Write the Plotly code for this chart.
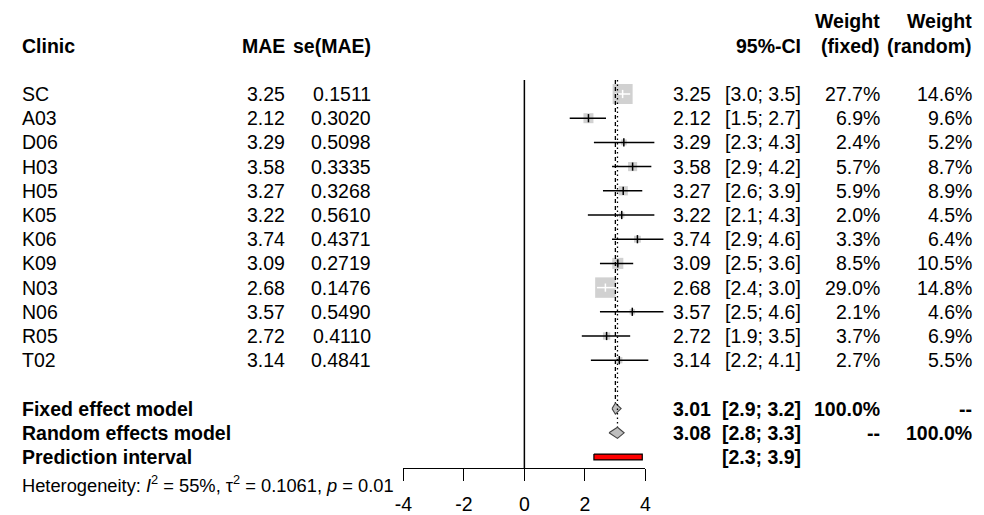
import plotly.graph_objects as go
import math

# ---------------- data ----------------
clinics = ["SC", "A03", "D06", "H03", "H05", "K05", "K06", "K09", "N03", "N06", "R05", "T02"]
mae = [3.25, 2.12, 3.29, 3.58, 3.27, 3.22, 3.74, 3.09, 2.68, 3.57, 2.72, 3.14]
se_mae = ["0.1511", "0.3020", "0.5098", "0.3335", "0.3268", "0.5610", "0.4371", "0.2719", "0.1476", "0.5490", "0.4110", "0.4841"]
ci_lower = [3.0, 1.5, 2.3, 2.9, 2.6, 2.1, 2.9, 2.5, 2.4, 2.5, 1.9, 2.2]
ci_upper = [3.5, 2.7, 4.3, 4.2, 3.9, 4.3, 4.6, 3.6, 3.0, 4.6, 3.5, 4.1]
w_fixed = [27.7, 6.9, 2.4, 5.7, 5.9, 2.0, 3.3, 8.5, 29.0, 2.1, 3.7, 2.7]
w_random = [14.6, 9.6, 5.2, 8.7, 8.9, 4.5, 6.4, 10.5, 14.8, 4.6, 6.9, 5.5]

fixed_est, fixed_lo, fixed_hi = 3.01, 2.9, 3.2
random_est, random_lo, random_hi = 3.08, 2.8, 3.3
pred_lo, pred_hi = 2.3, 3.9

tick_vals = [-4, -2, 0, 2, 4]
tick_text = ["-4", "-2", "0", "2", "4"]

het_text = "Heterogeneity: <i>I</i><sup>2</sup> = 55%, τ<sup>2</sup> = 0.1061, <i>p</i> = 0.01"

# ---------------- layout geometry ----------------
OFF = 8                      # page body margin
W, H = 984 - OFF, 515 - OFF  # figure size
Y0, ROW = 94.0 - OFF, 24.2   # figure pixel of first row, row height
X0, UNIT = 523.3 - OFF, 30.7 # figure pixel of x=0, pixels per unit
y_range = [(H - Y0) / ROW, (0 - Y0) / ROW]
x_range = [(0 - X0) / UNIT, (W - X0) / UNIT]

n = len(clinics)
rows = list(range(n))
r_fixed, r_random, r_pred = n + 1, n + 2, n + 3
r_top = (80 - OFF - Y0) / ROW
r_axis = (468 - OFF - Y0) / ROW

FONT = "Liberation Sans, Arial, sans-serif"
FS = 19.5
LW = 1.5

fig = go.Figure()

# squares
sizes = [3.8 * math.sqrt(w) for w in w_fixed]
fig.add_trace(go.Scatter(x=mae, y=rows, mode="markers",
                         marker=dict(symbol="square", size=sizes, color="#bebebe", line=dict(width=0)),
                         hoverinfo="skip", showlegend=False))

# CI lines (white when entirely inside the square)
lines = {"black": ([], []), "white": ([], [])}
for i in range(n):
    half = sizes[i] / 2 / UNIT
    inside = (mae[i] - ci_lower[i] < half) and (ci_upper[i] - mae[i] < half)
    col = "white" if inside else "black"
    xs, ys = lines[col]
    xs += [ci_lower[i], ci_upper[i], None, mae[i], mae[i], None]
    ys += [rows[i], rows[i], None, rows[i] - 0.17, rows[i] + 0.17, None]
for col, (xs, ys) in lines.items():
    fig.add_trace(go.Scatter(x=xs, y=ys, mode="lines", line=dict(color=col, width=LW),
                             hoverinfo="skip", showlegend=False))

# reference lines
fig.add_shape(type="line", x0=0, x1=0, y0=r_top, y1=r_axis, line=dict(color="black", width=LW))
fig.add_shape(type="line", x0=fixed_est, x1=fixed_est, y0=r_top, y1=r_fixed - 0.24,
              line=dict(color="black", width=1.3, dash="4px,3px"))
fig.add_shape(type="line", x0=random_est, x1=random_est, y0=r_top, y1=r_random - 0.24,
              line=dict(color="black", width=1.3, dash="1.5px,3px"))

# diamonds
for est, lo, hi, r in [(fixed_est, fixed_lo, fixed_hi, r_fixed), (random_est, random_lo, random_hi, r_random)]:
    h = 0.23
    fig.add_trace(go.Scatter(x=[lo, est, hi, est, lo], y=[r, r - h, r, r + h, r], mode="lines",
                             fill="toself", fillcolor="#bebebe", line=dict(color="#444444", width=1.1),
                             hoverinfo="skip", showlegend=False))

# prediction interval bar
hb = 0.12
fig.add_trace(go.Scatter(x=[pred_lo, pred_hi, pred_hi, pred_lo, pred_lo],
                         y=[r_pred - hb, r_pred - hb, r_pred + hb, r_pred + hb, r_pred - hb],
                         mode="lines", fill="toself", fillcolor="red", line=dict(color="black", width=1.2),
                         hoverinfo="skip", showlegend=False))

# dummy trace for visible axis
fig.add_trace(go.Scatter(x=[0], y=[0], xaxis="x2", yaxis="y", mode="markers",
                         marker=dict(opacity=0), hoverinfo="skip", showlegend=False))

ann = []


def txt(xpix, row, s, anchor, bold=False, size=FS):
    if bold:
        s = "<b>" + s + "</b>"
    ann.append(dict(x=(xpix - OFF) / W, xref="paper", y=row, yref="y", text=s, showarrow=False,
                    xanchor=anchor, yanchor="middle", borderpad=0, borderwidth=0,
                    font=dict(family=FONT, size=size, color="black")))


# headers
txt(13, -2, "Clinic", "left", True)
txt(280, -2, "MAE", "right", True)
txt(368, -2, "se(MAE)", "right", True)
txt(804, -2, "95%-CI", "right", True)
txt(884, -3, "Weight", "right", True)
txt(884, -2, "(fixed)", "right", True)
txt(978, -3, "Weight", "right", True)
txt(978, -2, "(random)", "right", True)

for i in range(n):
    r = rows[i]
    txt(13, r, clinics[i], "left")
    txt(280, r, f"{mae[i]:.2f}", "right")
    txt(368, r, se_mae[i], "right")
    txt(713, r, f"{mae[i]:.2f}", "right")
    txt(804, r, f"[{ci_lower[i]:.1f}; {ci_upper[i]:.1f}]", "right")
    txt(884, r, f"{w_fixed[i]:.1f}%", "right")
    txt(978, r, f"{w_random[i]:.1f}%", "right")

txt(13, r_fixed, "Fixed effect model", "left", True)
txt(713, r_fixed, f"{fixed_est:.2f}", "right", True)
txt(804, r_fixed, f"[{fixed_lo:.1f}; {fixed_hi:.1f}]", "right", True)
txt(884, r_fixed, "100.0%", "right", True)
txt(978, r_fixed, "--", "right", True)

txt(13, r_random, "Random effects model", "left", True)
txt(713, r_random, f"{random_est:.2f}", "right", True)
txt(804, r_random, f"[{random_lo:.1f}; {random_hi:.1f}]", "right", True)
txt(884, r_random, "--", "right", True)
txt(978, r_random, "100.0%", "right", True)

txt(13, r_pred, "Prediction interval", "left", True)
txt(804, r_pred, f"[{pred_lo:.1f}; {pred_hi:.1f}]", "right", True)

txt(13, (484 - OFF - Y0) / ROW, het_text, "left", False, 18.3)

fig.update_layout(
    width=W, height=H, autosize=False,
    margin=dict(l=0, r=0, t=0, b=0, pad=0),
    paper_bgcolor="white", plot_bgcolor="rgba(0,0,0,0)",
    showlegend=False,
    annotations=ann,
    xaxis=dict(domain=[0, 1], range=x_range, visible=False, fixedrange=True),
    yaxis=dict(domain=[0, 1], range=y_range, visible=False, fixedrange=True),
    xaxis2=dict(domain=[(X0 - 4 * UNIT) / W, (X0 + 4 * UNIT) / W], range=[-4, 4],
                anchor="free", position=1 - (468 - OFF) / H,
                tickvals=tick_vals, ticktext=tick_text,
                ticks="outside", ticklen=12, tickwidth=1.3, tickcolor="black",
                showline=True, linecolor="black", linewidth=1.3,
                showgrid=False, zeroline=False, fixedrange=True,
                ticklabelstandoff=6,
                tickfont=dict(family=FONT, size=FS, color="black")),
)

fig.write_html("out.html")
